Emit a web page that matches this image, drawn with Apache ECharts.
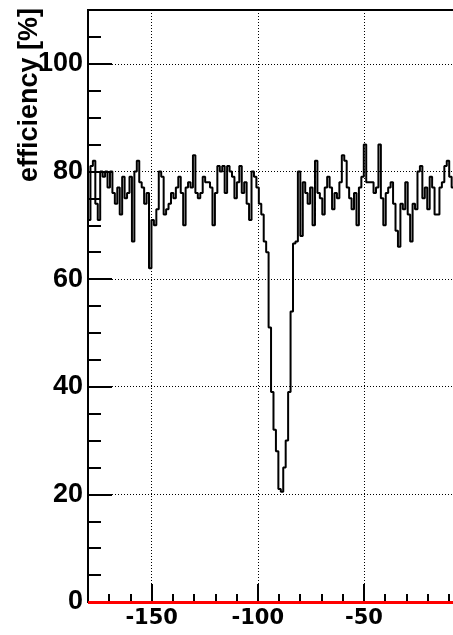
<!DOCTYPE html>
<html>
<head>
<meta charset="utf-8">
<script src="https://cdn.jsdelivr.net/npm/echarts@6/dist/echarts.min.js"></script>
<style>
  html, body { margin: 0; padding: 0; overflow: hidden; background: #fff; }
  #chart { width: 480px; height: 635px; }
</style>
</head>
<body>
<div id="chart"></div>
<script>
// binning of the histogram
const xMin = -180;
const xMax = 0;
const binWidth = 1.15;

// efficiency per bin [%]
const efficiency = [
  71, 81, 82, 74, 71, 80, 79, 80, 77, 80, 76, 74, 77, 72, 79, 75,
  76, 79, 67, 80, 82, 78, 77, 74, 76, 62, 71, 70, 73, 80, 79, 72,
  73, 74, 76, 75, 77, 79, 76, 70, 77, 78, 77, 83, 76, 75, 76, 79,
  78, 78, 77, 70, 76, 81, 80, 81, 76, 81, 80, 79, 75, 78, 81,
  76, 78, 74, 71, 80, 79, 77,
  74, 72, 67, 65, 51, 39, 32, 28, 21, 20.5, 25, 30, 39, 54, 66.6, 67,
  80, 68, 78, 76, 74, 77, 70, 82, 76, 75, 72, 77, 79, 77, 73, 76,
  75, 78, 83, 82, 77, 75, 73, 76, 70, 77, 79, 85, 78, 78, 78, 76,
  77, 85, 75, 70,
  76, 77, 78, 74, 69, 66, 74, 73, 78, 72, 67, 74, 73, 80, 81, 75,
  77, 73, 79, 77, 72, 72, 77, 78, 81, 82, 79, 77,
  78, 76, 79, 77, 80, 75, 78
];

const xMajorTicks = [-150, -100, -50, 0];
const xTickLabels = [-150, -100, -50];
const yMajorTicks = [0, 20, 40, 60, 80, 100];
const yMax = 110;

// step points at the low edge of every bin, plus the last high edge
const histData = efficiency.map((v, i) => [xMin + i * binWidth, v]);
histData.push([xMin + efficiency.length * binWidth, efficiency[efficiency.length - 1]]);

const chart = echarts.init(document.getElementById('chart'));

const dotted = { color: '#000', width: 1, type: [1, 2] };

chart.setOption({
  animation: false,
  grid: {
    left: 88, right: 10, top: 10, bottom: 33,
    show: true, borderColor: '#000', borderWidth: 2
  },
  graphic: [{
    type: 'text',
    x: 30, y: 8,
    rotation: Math.PI / 2,
    style: {
      text: 'efficiency [%]',
      fill: '#000',
      font: 'bold 27px "Liberation Sans"',
      align: 'right',
      verticalAlign: 'middle'
    }
  }],
  xAxis: [
    {
      type: 'value', min: xMin, max: xMax, position: 'bottom',
      axisLine: { show: true, onZero: false, lineStyle: { color: '#000', width: 2 } },
      axisTick: { show: true, inside: true, length: 18, customValues: xMajorTicks, lineStyle: { color: '#000', width: 2 } },
      axisLabel: {
        customValues: xTickLabels, margin: 6, color: '#000',
        fontSize: 21, fontWeight: 'bold', fontFamily: 'DejaVu Sans'
      },
      splitLine: { show: true, lineStyle: dotted }
    },
    {
      // minor ticks every 10
      type: 'value', min: xMin, max: xMax, interval: 10, position: 'bottom',
      axisLine: { show: false, onZero: false },
      axisTick: { show: true, inside: true, length: 8, lineStyle: { color: '#000', width: 2 } },
      axisLabel: { show: false },
      splitLine: { show: false }
    }
  ],
  yAxis: [
    {
      type: 'value', min: 0, max: yMax, position: 'left',
      axisLine: { show: true, onZero: false, lineStyle: { color: '#000', width: 2 } },
      axisTick: { show: true, inside: true, length: 24, customValues: yMajorTicks, lineStyle: { color: '#000', width: 2 } },
      axisLabel: {
        customValues: yMajorTicks, margin: 5, color: '#000',
        fontSize: 27, fontWeight: 'bold', fontFamily: 'Liberation Sans'
      },
      splitLine: { show: true, lineStyle: dotted }
    },
    {
      // minor ticks every 5
      type: 'value', min: 0, max: yMax, interval: 5, position: 'left',
      axisLine: { show: false, onZero: false },
      axisTick: { show: true, inside: true, length: 13, lineStyle: { color: '#000', width: 2 } },
      axisLabel: { show: false },
      splitLine: { show: false }
    }
  ],
  series: [{
    type: 'line',
    xAxisIndex: 0,
    yAxisIndex: 0,
    step: 'end',
    symbol: 'none',
    data: histData,
    lineStyle: { color: '#000', width: 2 },
    markLine: {
      silent: true,
      symbol: 'none',
      label: { show: false },
      lineStyle: { color: '#ff0000', width: 3, type: 'solid' },
      data: [{ yAxis: 0 }]
    }
  }]
});
</script>
</body>
</html>
